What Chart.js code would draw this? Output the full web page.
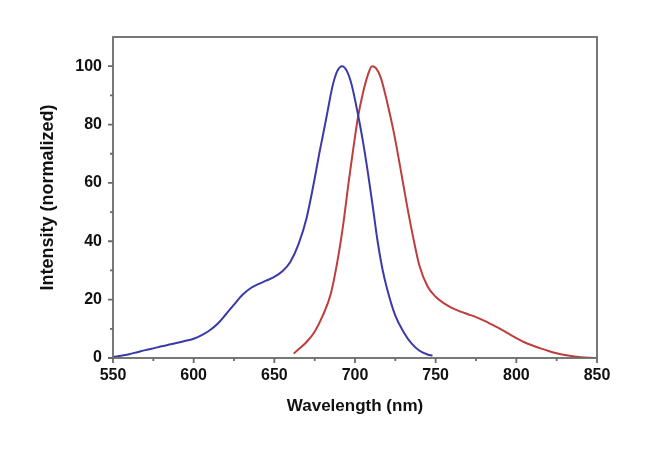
<!DOCTYPE html>
<html>
<head>
<meta charset="utf-8">
<script src="https://cdn.jsdelivr.net/npm/chart.js@4"></script>
<style>
  body { margin: 0; background: #fff; }
</style>
</head>
<body>
<canvas id="myChart" width="650" height="453"></canvas>
<script>
// emission spectra
var blueX = [550, 555, 560, 565, 570, 575, 580, 585, 590, 595, 600, 605, 610, 615, 620, 625, 630, 635, 640, 645, 650, 655, 660, 665, 670, 675, 678, 680, 683, 686, 689, 692, 695, 698, 702, 705, 708, 711, 714, 717, 720, 725, 730, 735, 740, 745, 748]
var blueY = [0.3, 0.8, 1.3, 2.0, 2.7, 3.3, 4.0, 4.6, 5.2, 5.9, 6.6, 7.8, 9.5, 11.8, 15, 18.3, 21.5, 23.8, 25.3, 26.5, 27.8, 29.7, 33, 39, 48, 61.5, 70.5, 76, 84.5, 93, 98.3, 100, 98.3, 93.5, 83, 74, 63.5, 52, 40, 30.5, 23.5, 14.5, 9, 5, 2.5, 1.2, 0.8]

var redX = [662, 665, 670, 675, 680, 685, 690, 693, 696, 699, 702, 705, 708, 710.5, 713, 716, 720, 724, 728, 732, 736, 740, 745, 750, 755, 760, 765, 770, 775, 780, 785, 790, 795, 800, 805, 810, 815, 820, 825, 830, 835, 840, 845, 850]
var redY = [1.5, 3, 5.5, 9, 14.5, 22, 36, 47, 60, 72, 83, 91, 97, 100, 99.3, 96, 87.5, 77.5, 65.5, 53, 41.5, 31.5, 24.5, 21, 18.8, 17.2, 16, 15, 14, 12.8, 11.4, 10, 8.4, 6.8, 5.4, 4.3, 3.3, 2.4, 1.6, 1, 0.6, 0.3, 0.1, 0]

var xMajor = 50, xMinor = 25
var yMajor = 20, yMinor = 10

function points(xs, ys) {
    return xs.map(function (x, i) { return { x: x, y: ys[i] } })
}

// frame round the plot + outward major/minor ticks
var frame = {
    id: 'frame',
    afterDraw: function (chart) {
        var c = chart.ctx, a = chart.chartArea
        var xs = chart.scales.x, ys = chart.scales.y
        c.save()
        c.strokeStyle = '#6a6a6a'
        c.lineWidth = 1.8
        c.strokeRect(a.left, a.top, a.right - a.left, a.bottom - a.top)
        c.beginPath()
        xs.ticks.forEach(function (t) {
            var px = xs.getPixelForValue(t.value)
            var len = t.value % xMajor === 0 ? 5 : 3
            c.moveTo(px, a.bottom)
            c.lineTo(px, a.bottom + len)
        })
        ys.ticks.forEach(function (t) {
            if (t.value > 100) return
            var py = ys.getPixelForValue(t.value)
            var len = t.value % yMajor === 0 ? 5 : 3
            c.moveTo(a.left, py)
            c.lineTo(a.left - len, py)
        })
        c.stroke()
        c.restore()
    }
}

const ctx = document.getElementById('myChart')

new Chart(ctx, {
    type: 'line',
    data: {
        datasets: [{
            label: 'blue',
            data: points(blueX, blueY),
            borderColor: '#3a3aa8',
            borderWidth: 2,
            pointRadius: 0,
            cubicInterpolationMode: 'monotone'
        }, {
            label: 'red',
            data: points(redX, redY),
            borderColor: '#bd3e3c',
            borderWidth: 2,
            pointRadius: 0,
            cubicInterpolationMode: 'monotone'
        }]
    },
    options: {
        responsive: false,
        animation: false,
        layout: { padding: { left: 0, right: 53, top: 37, bottom: 0 } },
        plugins: {
            legend: { display: false },
            tooltip: { enabled: false }
        },
        scales: {
            x: {
                type: 'linear',
                min: 550,
                max: 850,
                afterFit: function (s) { s.height = 95 },
                grid: { drawOnChartArea: false, color: 'transparent', tickLength: 8 },
                border: { display: false },
                ticks: {
                    stepSize: xMinor,
                    padding: 0,
                    maxRotation: 0,
                    autoSkip: false,
                    color: '#111',
                    font: { family: 'Liberation Sans', size: 16, weight: 'bold' },
                    callback: function (v) { return v % xMajor === 0 ? v : '' }
                },
                title: {
                    display: true,
                    text: 'Wavelength (nm)',
                    color: '#111',
                    padding: { top: 0, bottom: 36 },
                    font: { family: 'Liberation Sans', size: 17, weight: 'bold' }
                }
            },
            y: {
                min: 0,
                max: 110,
                afterFit: function (s) { s.width = 113 },
                grid: { drawOnChartArea: false, color: 'transparent', tickLength: 8 },
                border: { display: false },
                ticks: {
                    stepSize: yMinor,
                    padding: 3,
                    autoSkip: false,
                    color: '#111',
                    font: { family: 'Liberation Sans', size: 16, weight: 'bold' },
                    callback: function (v) { return (v % yMajor === 0 && v <= 100) ? v : '' }
                },
                title: {
                    display: true,
                    text: 'Intensity (normalized)',
                    color: '#111',
                    padding: { top: 37, bottom: 0 },
                    font: { family: 'Liberation Sans', size: 18, weight: 'bold' }
                }
            }
        }
    },
    plugins: [frame]
})
</script>
</body>
</html>
